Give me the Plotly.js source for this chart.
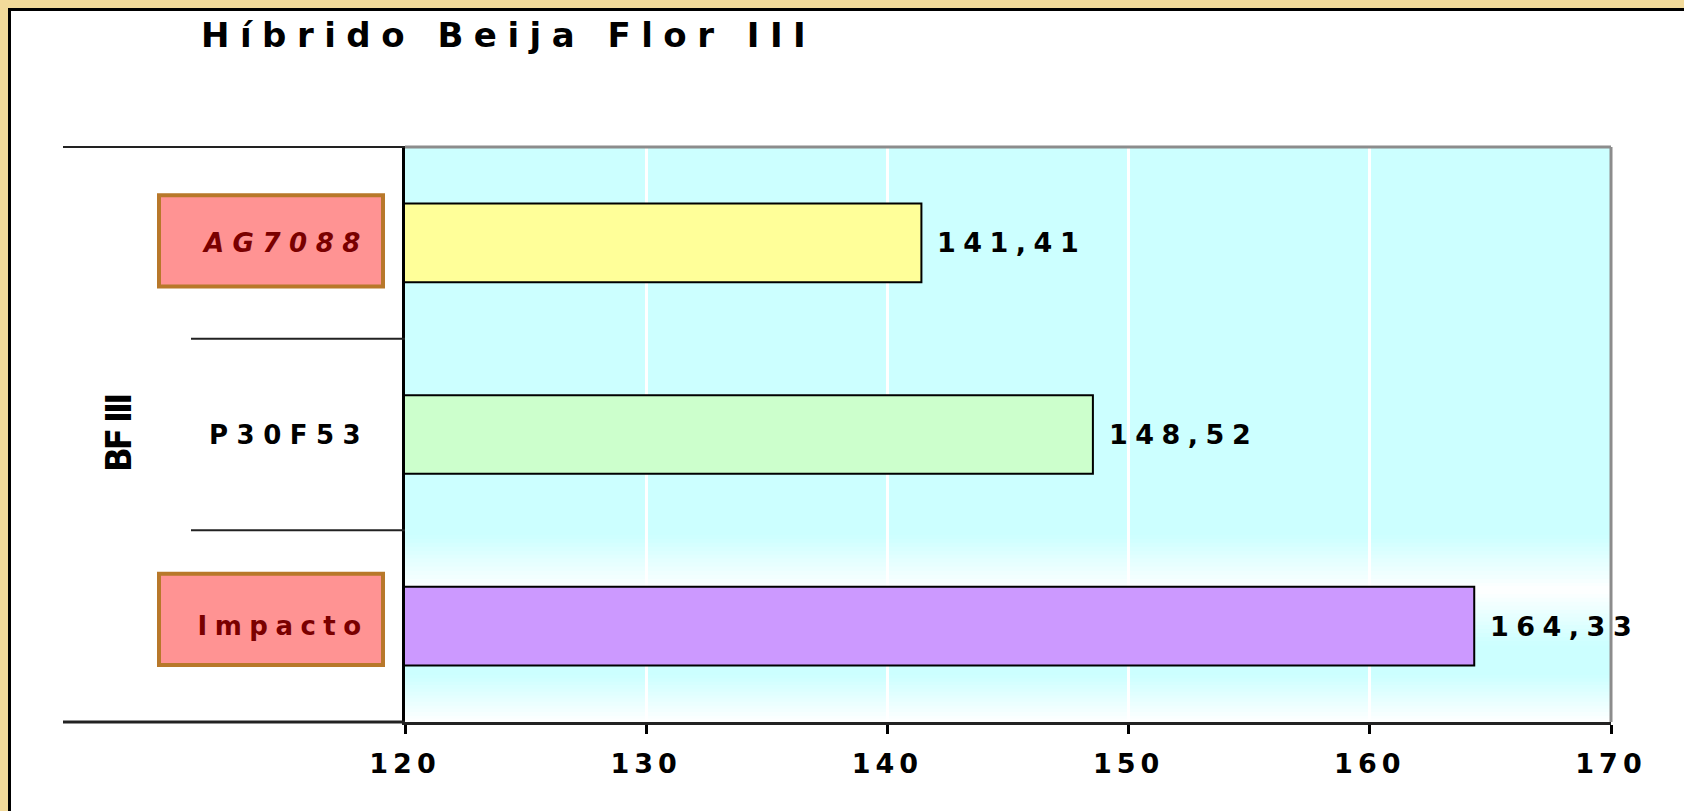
<!DOCTYPE html>
<html>
<head>
<meta charset="utf-8">
<script src="https://cdn.plot.ly/plotly-3.0.1.min.js"></script>
<style>
html,body{margin:0;padding:0;background:#fff;}
#chart{width:1684px;height:811px;}
</style>
</head>
<body>
<div id="chart"></div>
<script>
// ---- data ----
const categories = ["Impacto", "P30F53", "AG7088"];
const values = [164.33, 148.52, 141.41];
const barColors = ["#CC99FF", "#CCFFCC", "#FFFF99"];
const boxedLabels = ["Impacto", "AG7088"];
const groupLabel = "BF III";
const chartTitle = "Híbrido Beija Flor III";
const xTicks = [120, 130, 140, 150, 160, 170];

// ---- style / geometry ----
const W = 1684, H = 811;
const M = {l: 405, r: 73, t: 147, b: 89};
const PW = W - M.l - M.r, PH = H - M.t - M.b;
const px = v => (v - M.l) / PW;
const py = v => 1 - (v - M.t) / PH;
const FONT = "DejaVu Sans";
const boxShift = {"Impacto": 0.035, "AG7088": 0.01};
const labelSpacing = {"AG7088": 8.5, "P30F53": 8.5, "Impacto": 7.5};

const trace = {
  type: "bar",
  orientation: "h",
  y: categories,
  x: values,
  base: 0,
  width: 0.41,
  marker: {color: barColors, line: {color: "#000", width: 2}},
  hoverinfo: "x+y",
  showlegend: false
};

const shapes = [];
// beige frame outside the white panel
shapes.push({type: "rect", xref: "paper", yref: "paper", x0: px(-5), x1: px(8), y0: py(H + 5), y1: py(-5), fillcolor: "#F2DA9A", line: {width: 0}, layer: "below"});
shapes.push({type: "rect", xref: "paper", yref: "paper", x0: px(-5), x1: px(W + 5), y0: py(8), y1: py(-5), fillcolor: "#F2DA9A", line: {width: 0}, layer: "below"});
shapes.push({type: "line", xref: "paper", yref: "paper", x0: px(9.5), x1: px(9.5), y0: py(8), y1: py(H + 5), line: {color: "#000", width: 3}, layer: "below"});
shapes.push({type: "line", xref: "paper", yref: "paper", x0: px(8), x1: px(W + 5), y0: py(9.5), y1: py(9.5), line: {color: "#000", width: 3}, layer: "below"});

// gradient bands in plot background (cyan <-> white)
function lerpColor(t) {
  const r = Math.round(204 + (255 - 204) * t);
  return "rgb(" + r + ",255,255)";
}
function band(pTop, pBot, tTop, tBot) {
  const n = 14;
  for (let i = 0; i < n; i++) {
    const a = pTop + (pBot - pTop) * i / n;
    const b = pTop + (pBot - pTop) * (i + 1) / n;
    const t = tTop + (tBot - tTop) * (i + 0.5) / n;
    shapes.push({type: "rect", xref: "x domain", yref: "y domain", x0: 0, x1: 1, y0: py(b + 0.5), y1: py(a), fillcolor: lerpColor(t), line: {width: 0}, layer: "below"});
  }
}
band(535, 590, 0, 1);
band(590, 645, 1, 0);
band(675, 722, 0, 1);

// plot frame: grey top/right
shapes.push({type: "line", xref: "paper", yref: "paper", x0: 0, x1: 1, y0: 1, y1: 1, line: {color: "#8c8c8c", width: 3}});
shapes.push({type: "line", xref: "paper", yref: "paper", x0: 1, x1: 1, y0: 0, y1: 1, line: {color: "#8c8c8c", width: 3}});
// category separator lines to the left
shapes.push({type: "line", xref: "paper", yref: "paper", x0: px(63), x1: 0, y0: 1, y1: 1, line: {color: "#222", width: 2}});
shapes.push({type: "line", xref: "paper", yref: "paper", x0: px(63), x1: 0, y0: 0, y1: 0, line: {color: "#222", width: 3}});
for (let i = 0; i < categories.length - 1; i++) {
  shapes.push({type: "line", xref: "paper", yref: "y", x0: px(191), x1: 0, y0: i + 0.5, y1: i + 0.5, line: {color: "#222", width: 2}});
}
// boxes behind highlighted labels
categories.forEach((c, i) => {
  if (boxedLabels.includes(c)) {
    const s = boxShift[c] || 0;
    shapes.push({type: "rect", xref: "paper", yref: "y", x0: px(159), x1: px(383), y0: i + s - 0.238, y1: i + s + 0.238,
      fillcolor: "#FF9393", line: {color: "#B8782A", width: 4}});
  }
});

const annotations = [];
const spacing = [];
annotations.push({text: "<b>" + chartTitle + "</b>", xref: "paper", yref: "paper", x: px(199), y: py(35), xanchor: "left", align: "left", yanchor: "middle", showarrow: false, font: {family: FONT, size: 34, color: "#000"}});
spacing.push(10.5);
annotations.push({text: "<b>" + groupLabel + "</b>", xref: "paper", yref: "paper", x: px(118), y: py(434), xanchor: "center", yanchor: "middle", textangle: -90, showarrow: false, font: {family: "DejaVu Sans Condensed", size: 36, color: "#000"}});
spacing.push(-3);
categories.forEach((c, i) => {
  const boxed = boxedLabels.includes(c);
  annotations.push({text: "<b>" + c + "</b>", xref: "paper", yref: "y", x: px(371), y: i, xanchor: "right", align: "right", yanchor: "middle", showarrow: false,
    font: {family: FONT, size: 26, color: boxed ? "#7A0000" : "#000", style: c === "AG7088" ? "italic" : "normal"}});
  spacing.push(labelSpacing[c]);
  annotations.push({text: "<b>" + values[i].toFixed(2).replace(".", ",") + "</b>", xref: "x", yref: "y", x: values[i], y: i, xanchor: "left", align: "left", yanchor: "middle", xshift: 14, showarrow: false,
    font: {family: FONT, size: 27, color: "#000"}});
  spacing.push(7.5);
});

const layout = {
  width: W, height: H,
  margin: M,
  paper_bgcolor: "#fff",
  plot_bgcolor: "#CCFFFF",
  showlegend: false,
  xaxis: {
    range: [120, 170], tickvals: xTicks, ticktext: xTicks.map(String),
    showgrid: true, gridcolor: "#fff", gridwidth: 3,
    showline: true, linecolor: "#222", linewidth: 3,
    ticks: "outside", ticklen: 9, tickwidth: 3, tickcolor: "#000",
    ticklabelstandoff: 7,
    tickfont: {family: FONT, size: 27, color: "#000", weight: "bold"},
    zeroline: false, fixedrange: true
  },
  yaxis: {
    type: "category", categoryorder: "array", categoryarray: categories,
    range: [-0.5, 2.5], showticklabels: false, ticks: "",
    showgrid: false, showline: true, linecolor: "#000", linewidth: 3,
    zeroline: false, fixedrange: true
  },
  shapes: shapes,
  annotations: annotations
};

Plotly.newPlot("chart", [trace], layout, {displayModeBar: false, staticPlot: true}).then(gd => {
  gd.querySelectorAll(".annotation").forEach(g => {
    const idx = +g.getAttribute("data-index");
    const t = g.querySelector("text");
    if (t && spacing[idx] !== undefined) t.style.letterSpacing = spacing[idx] + "px";
  });
  gd.querySelectorAll(".xtick text").forEach(t => { t.style.letterSpacing = "5px"; });
});
</script>
</body>
</html>
